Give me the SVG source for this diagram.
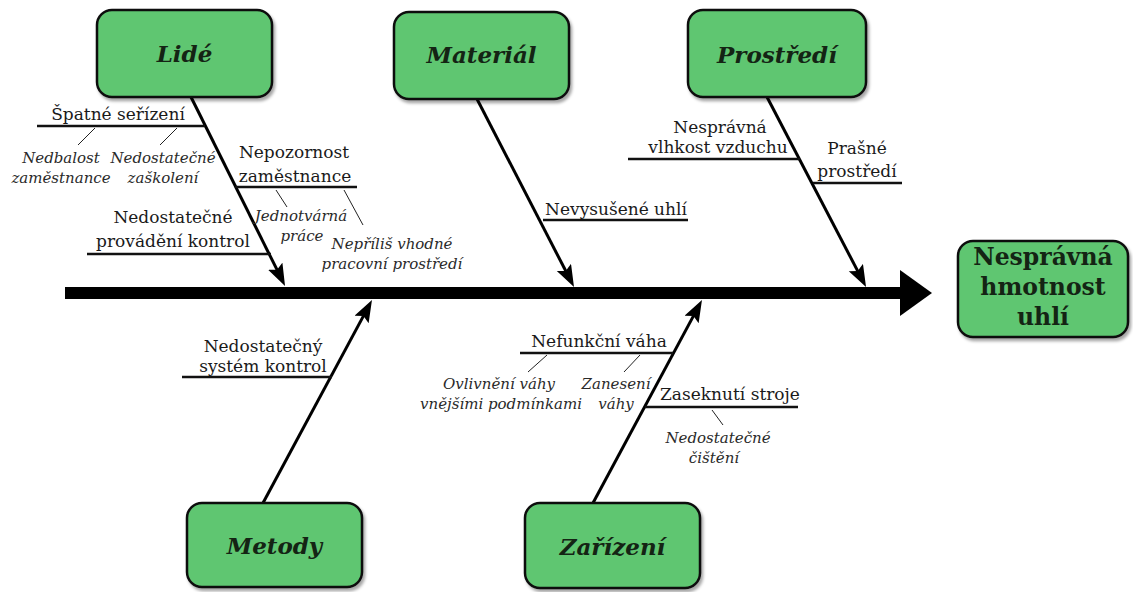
<svg xmlns="http://www.w3.org/2000/svg" width="1133" height="592" viewBox="0 0 1133 592">
<style>
.box{fill:#5ec671;stroke:#111;stroke-width:2.5;filter:url(#sh)}
.cat{font-family:"DejaVu Serif","Liberation Serif",serif;font-size:23px;font-weight:bold;font-style:italic;fill:#142414;text-anchor:middle}
.eff{font-family:"DejaVu Serif","Liberation Serif",serif;font-size:23.5px;font-weight:bold;fill:#142414;text-anchor:middle}
.lbl{font-family:"DejaVu Serif","Liberation Serif",serif;font-size:17px;fill:#1a1a1a;text-anchor:middle}
.it{font-family:"DejaVu Serif","Liberation Serif",serif;font-size:15px;font-style:italic;fill:#2a2a2a;text-anchor:middle}
.br{stroke:#000;stroke-width:3;fill:none}
.sb{stroke:#111;stroke-width:2.5;fill:none}
.tw{stroke:#222;stroke-width:1;fill:none}
</style>
<defs>
<filter id="sh" x="-10%" y="-10%" width="130%" height="130%">
<feDropShadow dx="2" dy="3" stdDeviation="1.5" flood-color="#000" flood-opacity="0.35"/>
</filter>
<marker id="ah" markerUnits="userSpaceOnUse" markerWidth="24" markerHeight="18" refX="10" refY="8" orient="auto">
<path d="M0,0 L22,8 L0,16 L4,8 z" fill="#000"/>
</marker>
</defs>
<rect width="1133" height="592" fill="#fff"/>

<g id="connectors">
<line x1="65" y1="293" x2="904" y2="293" stroke="#000" stroke-width="12"/>
<polygon points="900,270 932,293 900,316" fill="#000"/>
<line class="br" x1="191" y1="97" x2="279.7" y2="275.2" marker-end="url(#ah)"/>
<line class="br" x1="477" y1="99" x2="568.5" y2="276.3" marker-end="url(#ah)"/>
<line class="br" x1="767" y1="97" x2="860.5" y2="276.4" marker-end="url(#ah)"/>
<line class="br" x1="263" y1="503" x2="366.3" y2="310.6" marker-end="url(#ah)"/>
<line class="br" x1="593" y1="503" x2="696.3" y2="310.6" marker-end="url(#ah)"/>
<line class="sb" x1="37" y1="126" x2="205" y2="126"/>
<line class="tw" x1="95" y1="128" x2="78" y2="145"/>
<line class="tw" x1="177" y1="128" x2="160" y2="145"/>
<line class="sb" x1="235" y1="187" x2="357" y2="187"/>
<line class="tw" x1="276" y1="190" x2="287" y2="207"/>
<line class="tw" x1="344" y1="190" x2="363" y2="225"/>
<line class="sb" x1="87" y1="254" x2="271" y2="254"/>
<line class="sb" x1="543" y1="220" x2="688" y2="220"/>
<line class="sb" x1="628" y1="159" x2="800" y2="159"/>
<line class="sb" x1="813" y1="183" x2="902" y2="183"/>
<line class="sb" x1="182" y1="377" x2="332" y2="377"/>
<line class="sb" x1="520" y1="353" x2="673" y2="353"/>
<line class="tw" x1="547" y1="355" x2="528" y2="372"/>
<line class="tw" x1="640" y1="355" x2="624" y2="372"/>
<line class="sb" x1="645" y1="407" x2="798" y2="407"/>
<line class="tw" x1="712" y1="410" x2="723" y2="425"/>
</g>

<g id="lide"><rect class="box" x="97" y="10" width="175" height="87" rx="15"/><text class="cat" x="184.5" y="62">Lidé</text></g>
<g id="material"><rect class="box" x="394" y="12" width="175" height="87" rx="15"/><text class="cat" x="481.5" y="63">Materiál</text></g>
<g id="prostredi"><rect class="box" x="688" y="10" width="178" height="87" rx="15"/><text class="cat" x="777" y="63">Prostředí</text></g>
<g id="metody"><rect class="box" x="187" y="503" width="175" height="84" rx="15"/><text class="cat" x="274.5" y="554">Metody</text></g>
<g id="zarizeni"><rect class="box" x="525" y="503" width="175" height="85" rx="15"/><text class="cat" x="612.5" y="555">Zařízení</text></g>
<g id="effect"><rect class="box" x="958" y="241" width="170" height="96" rx="15"/>
<text class="eff" x="1043" y="265">Nesprávná</text><text class="eff" x="1043" y="295">hmotnost</text><text class="eff" x="1043" y="325">uhlí</text></g>

<g id="labels">
<text class="lbl" x="118" y="120">Špatné seřízení</text>
<text class="it" x="61" y="163">Nedbalost</text>
<text class="it" x="61" y="183">zaměstnance</text>
<text class="it" x="163" y="163">Nedostatečné</text>
<text class="it" x="163" y="183">zaškolení</text>
<text class="lbl" x="294" y="158">Nepozornost</text>
<text class="lbl" x="295" y="182">zaměstnance</text>
<text class="it" x="301" y="221">Jednotvárná</text>
<text class="it" x="302" y="241">práce</text>
<text class="it" x="392" y="249">Nepříliš vhodné</text>
<text class="it" x="392" y="269">pracovní prostředí</text>
<text class="lbl" x="173" y="223">Nedostatečné</text>
<text class="lbl" x="173" y="247">provádění kontrol</text>
<text class="lbl" x="616" y="215">Nevysušené uhlí</text>
<text class="lbl" x="720" y="133">Nesprávná</text>
<text class="lbl" x="718" y="153">vlhkost vzduchu</text>
<text class="lbl" x="857" y="154">Prašné</text>
<text class="lbl" x="857" y="177">prostředí</text>
<text class="lbl" x="263" y="352">Nedostatečný</text>
<text class="lbl" x="263" y="372">systém kontrol</text>
<text class="lbl" x="599" y="347">Nefunkční váha</text>
<text class="it" x="499" y="389">Ovlivnění váhy</text>
<text class="it" x="501" y="409">vnějšími podmínkami</text>
<text class="it" x="616" y="389">Zanesení</text>
<text class="it" x="616" y="409">váhy</text>
<text class="lbl" x="730" y="400">Zaseknutí stroje</text>
<text class="it" x="718" y="443">Nedostatečné</text>
<text class="it" x="714" y="463">čištění</text>
</g>
</svg>
